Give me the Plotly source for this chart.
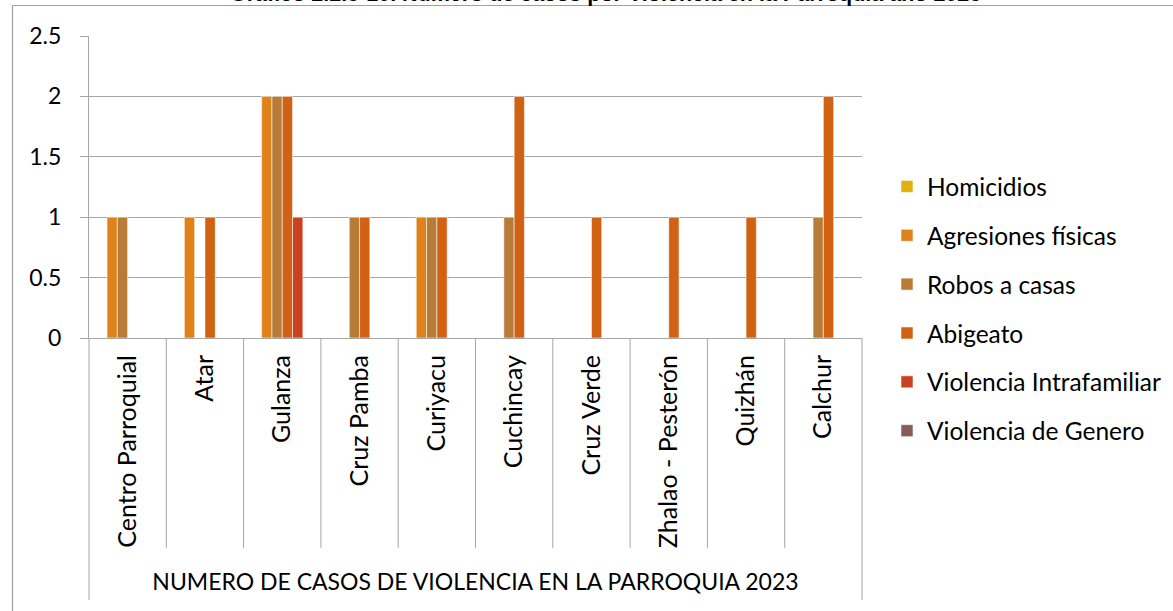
import plotly.graph_objects as go

categories = ["Centro Parroquial", "Atar", "Gulanza", "Cruz Pamba", "Curiyacu",
              "Cuchincay", "Cruz Verde", "Zhalao - Pesterón", "Quizhán", "Calchur"]

homicidios = [0, 0, 0, 0, 0, 0, 0, 0, 0, 0]
agresiones_fisicas = [1, 1, 2, 0, 1, 0, 0, 0, 0, 0]
robos_a_casas = [1, 0, 2, 1, 1, 1, 0, 0, 0, 1]
abigeato = [0, 1, 2, 1, 1, 2, 1, 1, 1, 2]
violencia_intrafamiliar = [0, 0, 1, 0, 0, 0, 0, 0, 0, 0]
violencia_de_genero = [0, 0, 0, 0, 0, 0, 0, 0, 0, 0]

series_names = ["Homicidios", "Agresiones físicas", "Robos a casas", "Abigeato",
                "Violencia Intrafamiliar", "Violencia de Genero"]
series_values = [homicidios, agresiones_fisicas, robos_a_casas, abigeato,
                 violencia_intrafamiliar, violencia_de_genero]
series_colors = ["#E2B00B", "#DF821A", "#B87C38", "#D16214", "#CA4120", "#8A5B5B"]

y_ticks = [0, 0.5, 1, 1.5, 2, 2.5]
y_tick_labels = ["0", "0.5", "1", "1.5", "2", "2.5"]

x_title = "NUMERO DE CASOS DE VIOLENCIA EN LA PARROQUIA 2023"
chart_title = "Gráfico 2.2.3-10. Número de casos por Violencia en la Parroquia año 2023"

FONT = "Lato"
GRID = "#A6A6A6"

W, H = 1173, 611
L, R, T, B = 89, 311, 36, 273
pw, ph = W - L - R, H - T - B

def px_x(p):
    return (p - L) / pw

def px_y(p):
    return (H - B - p) / ph

fig = go.Figure()
for i, (name, vals, col) in enumerate(zip(series_names, series_values, series_colors)):
    fig.add_trace(go.Bar(
        x=categories, y=vals, name=name,
        marker=dict(color=col, line=dict(color="rgba(255,255,255,0.55)", width=1)),
        legendgroup=f"g{i}",
    ))

shapes = []
n = len(categories)
# inner category dividers
for k in range(1, n):
    shapes.append(dict(type="line", xref="paper", yref="paper",
                       x0=k / n, x1=k / n, y0=0, y1=px_y(548),
                       line=dict(color=GRID, width=1)))
# outer group dividers
for k in (0, n):
    shapes.append(dict(type="line", xref="paper", yref="paper",
                       x0=k / n, x1=k / n, y0=0, y1=px_y(600),
                       line=dict(color=GRID, width=1)))
# chart frame (left and top edges)
shapes.append(dict(type="line", xref="paper", yref="paper", layer="above",
                   x0=px_x(12.5), x1=px_x(12.5), y0=px_y(611), y1=px_y(5.5),
                   line=dict(color="#A0A0A0", width=1.2)))
shapes.append(dict(type="line", xref="paper", yref="paper", layer="above",
                   x0=px_x(12.5), x1=px_x(1173), y0=px_y(5.5), y1=px_y(5.5),
                   line=dict(color="#A0A0A0", width=1.2)))

fig.update_layout(
    width=W, height=H,
    margin=dict(l=L, r=R, t=T, b=B, pad=0, autoexpand=False),
    paper_bgcolor="white", plot_bgcolor="white",
    barmode="group", bargap=0.2, bargroupgap=0,
    font=dict(family=FONT, size=24, color="#000000"),
    shapes=shapes,
    showlegend=True,
    legend=dict(x=px_x(887), xanchor="left", y=px_y(309), yanchor="middle",
                font=dict(family=FONT, size=24.5, color="#000000"),
                traceorder="grouped", tracegroupgap=14,
                bgcolor="rgba(0,0,0,0)"),
    annotations=[dict(text="<b>" + chart_title + "</b>", xref="paper", yref="paper",
                      x=px_x(605), y=px_y(8), xanchor="center", yanchor="bottom",
                      showarrow=False,
                      font=dict(family="Liberation Sans", size=21.5, color="#000000"))],
)

fig.update_xaxes(
    type="category", tickangle=-90, ticks="", showgrid=False,
    showline=True, linecolor=GRID, linewidth=1,
    ticklabelstandoff=6,
    tickfont=dict(family=FONT, size=25),
    title=dict(text=x_title, standoff=26, font=dict(family=FONT, size=23)),
)
fig.update_yaxes(
    range=[0, 2.5], tickmode="array", tickvals=y_ticks, ticktext=y_tick_labels,
    showgrid=True, gridcolor=GRID, gridwidth=1,
    showline=True, linecolor=GRID, linewidth=1,
    ticks="outside", ticklen=8, tickcolor=GRID,
    ticklabelstandoff=14, zeroline=False,
    tickfont=dict(family=FONT, size=23),
)

fig.write_html("out.html", config={"displayModeBar": False},
               post_script="document.body.style.margin='0';")
